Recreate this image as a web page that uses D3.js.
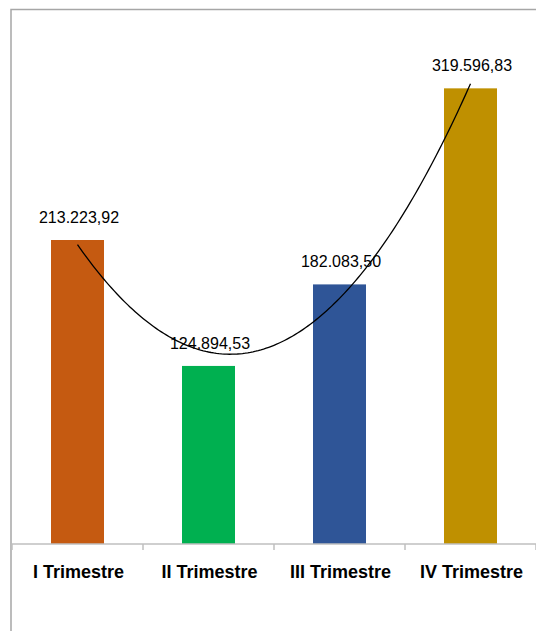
<!DOCTYPE html>
<html><head><meta charset="utf-8">
<script src="https://cdn.jsdelivr.net/npm/d3@7"></script>
<style>html,body{margin:0;padding:0;background:#fff;}svg{display:block;}</style>
</head><body>
<svg id="c" width="536" height="631"></svg>
<script>
const categories = ["I Trimestre", "II Trimestre", "III Trimestre", "IV Trimestre"];
const values = [213223.92, 124894.53, 182083.50, 319596.83];
const labels = ["213.223,92", "124.894,53", "182.083,50", "319.596,83"];
const colors = ["#C55A11", "#00B050", "#2F5597", "#BF9000"];

(function () {
const svg = d3.select("#c");
const plotLeft = 12, plotRight = 536, base = 544, plotTop = 45;

// outer border (chart area frame)
svg.append("rect").attr("x", 11).attr("y", 9.5).attr("width", 700).attr("height", 800)
  .attr("fill", "none").attr("stroke", "#a6a6a6").attr("stroke-width", 1.5);

const x = d3.scaleBand().domain(categories).range([plotLeft, plotRight]).paddingInner(0).paddingOuter(0);
const y = d3.scaleLinear().domain([0, 350000]).range([base, plotTop]);
const bw = 53;

svg.selectAll("rect.bar").data(values).enter().append("rect").attr("class", "bar")
  .attr("x", (d, i) => x(categories[i]) + x.bandwidth() / 2 - bw / 2)
  .attr("y", d => y(d))
  .attr("width", bw)
  .attr("height", d => base - y(d))
  .attr("fill", (d, i) => colors[i]);

// axis line + ticks
svg.append("line").attr("x1", plotLeft).attr("x2", plotRight).attr("y1", base).attr("y2", base)
  .attr("stroke", "#bfbfbf").attr("stroke-width", 1.5);
const tickPos = categories.map(c => x(c)).concat([x(categories[3]) + x.bandwidth()]);
svg.selectAll("line.tick").data(tickPos).enter().append("line").attr("class", "tick")
  .attr("x1", d => d).attr("x2", d => d).attr("y1", base).attr("y2", base + 6)
  .attr("stroke", "#bfbfbf").attr("stroke-width", 1.5);

// category labels
svg.selectAll("text.cat").data(categories).enter().append("text").attr("class", "cat")
  .attr("x", d => x(d) + x.bandwidth() / 2 + 1).attr("y", 578)
  .attr("text-anchor", "middle")
  .attr("font-family", "Liberation Sans, Arial, sans-serif")
  .attr("font-weight", "bold").attr("font-size", 18).attr("fill", "#000")
  .text(d => d);

// polynomial (order 2) trendline fitted by least squares
const xs = values.map((d, i) => i + 1);
const mx = d3.mean(xs);
const t = xs.map(v => v - mx);
const mt2 = d3.mean(t, v => v * v);
const u = t.map(v => v * v - mt2);
const a0 = d3.mean(values);
const b1 = d3.sum(values.map((v, i) => v * t[i])) / d3.sum(t, v => v * v);
const c2 = d3.sum(values.map((v, i) => v * u[i])) / d3.sum(u, v => v * v);
const fit = xv => { const tt = xv - mx; return a0 + b1 * tt + c2 * (tt * tt - mt2); };
const xPix = xv => x(categories[0]) + x.bandwidth() / 2 + (xv - 1) * x.bandwidth();
const pts = d3.range(1, 4.0001, 0.02).map(xv => [xPix(xv), y(fit(xv))]);
svg.append("path").attr("d", d3.line()(pts)).attr("fill", "none")
  .attr("stroke", "#000").attr("stroke-width", 1.3);

// data labels
svg.selectAll("text.val").data(values).enter().append("text").attr("class", "val")
  .attr("x", (d, i) => x(categories[i]) + x.bandwidth() / 2 + 1.5)
  .attr("y", d => y(d) - 17)
  .attr("text-anchor", "middle")
  .attr("font-family", "Liberation Sans, Arial, sans-serif")
  .attr("font-size", 16).attr("fill", "#000")
  .text((d, i) => labels[i]);
})();
</script>
</body></html>
